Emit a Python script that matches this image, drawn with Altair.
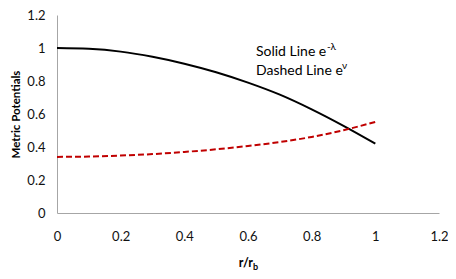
import altair as alt
import pandas as pd

r = [0.0, 0.1, 0.2, 0.3, 0.4, 0.5, 0.6, 0.7, 0.8, 0.9, 1.0]
e_lambda = [1.0, 0.995, 0.978, 0.947, 0.905, 0.853, 0.79, 0.717, 0.628, 0.528, 0.42]
e_nu = [0.34, 0.342, 0.348, 0.357, 0.37, 0.386, 0.406, 0.43, 0.461, 0.502, 0.552]

x_ticks = [0, 0.2, 0.4, 0.6, 0.8, 1, 1.2]
y_ticks = [0, 0.2, 0.4, 0.6, 0.8, 1, 1.2]

df = pd.DataFrame({"r": r, "lam": e_lambda, "nu": e_nu})

FONT = "Lato"

xs = alt.Scale(domain=[0, 1.2], nice=False)
ys = alt.Scale(domain=[0, 1.2], nice=False)

xax = alt.Axis(values=x_ticks, grid=False, ticks=False, domainColor="#a6a6a6",
               labelFont=FONT, labelFontSize=13, labelColor="#111", labelPadding=17,
               title=None, labelFlush=False, labelOverlap=False, format=".1~f")
yax = alt.Axis(values=y_ticks, grid=False, ticks=False, domainColor="#a6a6a6",
               labelFont=FONT, labelFontSize=13, labelColor="#111", labelPadding=12,
               title="Metric Potentials", titleFont=FONT, titleFontSize=11.5,
               titleFontWeight="bold", titleColor="#000", titlePadding=5,
               labelFlush=False, labelOverlap=False, format=".1~f")

base = alt.Chart(df)

solid = base.mark_line(color="#000000", strokeWidth=2, interpolate="monotone").encode(
    x=alt.X("r:Q", scale=xs, axis=xax),
    y=alt.Y("lam:Q", scale=ys, axis=yax),
)
dashed = base.mark_line(color="#c00000", strokeWidth=2, strokeDash=[6, 3],
                        interpolate="monotone").encode(
    x=alt.X("r:Q", scale=xs, axis=xax),
    y=alt.Y("nu:Q", scale=ys, axis=yax),
)

def txt(s, x, y, size=14, dx=0, dy=0, weight="normal", align="left"):
    return alt.Chart(pd.DataFrame({"t": [s]})).mark_text(
        font=FONT, fontSize=size, align=align, baseline="middle", dx=dx, dy=dy,
        fontWeight=weight, color="#000"
    ).encode(x=alt.X(datum=x, scale=xs, axis=xax),
             y=alt.Y(datum=y, scale=ys, axis=yax), text="t:N")

t1 = txt("Solid Line e", 0.625, 0.977)
t1s = txt("-λ", 0.625, 0.977, size=10, dx=71, dy=-5)
t2 = txt("Dashed Line e", 0.625, 0.862)
t2s = txt("ν", 0.625, 0.862, size=10, dx=86, dy=-5)

xt = alt.Chart(pd.DataFrame({"t": ["r/r"]})).mark_text(
    font=FONT, fontSize=12.5, fontWeight="bold", align="right", baseline="middle", color="#000"
).encode(x=alt.value(196), y=alt.value(248), text="t:N")
xts = alt.Chart(pd.DataFrame({"t": ["b"]})).mark_text(
    font=FONT, fontSize=9, fontWeight="bold", align="left", baseline="middle", color="#000"
).encode(x=alt.value(196), y=alt.value(252), text="t:N")

chart = alt.layer(solid, dashed, t1, t1s, t2, t2s, xt, xts).properties(
    width=382, height=198,
    padding={"left": 49, "top": 7, "right": 9, "bottom": 58},
    autosize=alt.AutoSizeParams(type="none"),
).configure_view(stroke=None)

chart.save("out.html", embed_options={"renderer": "svg", "actions": False})
